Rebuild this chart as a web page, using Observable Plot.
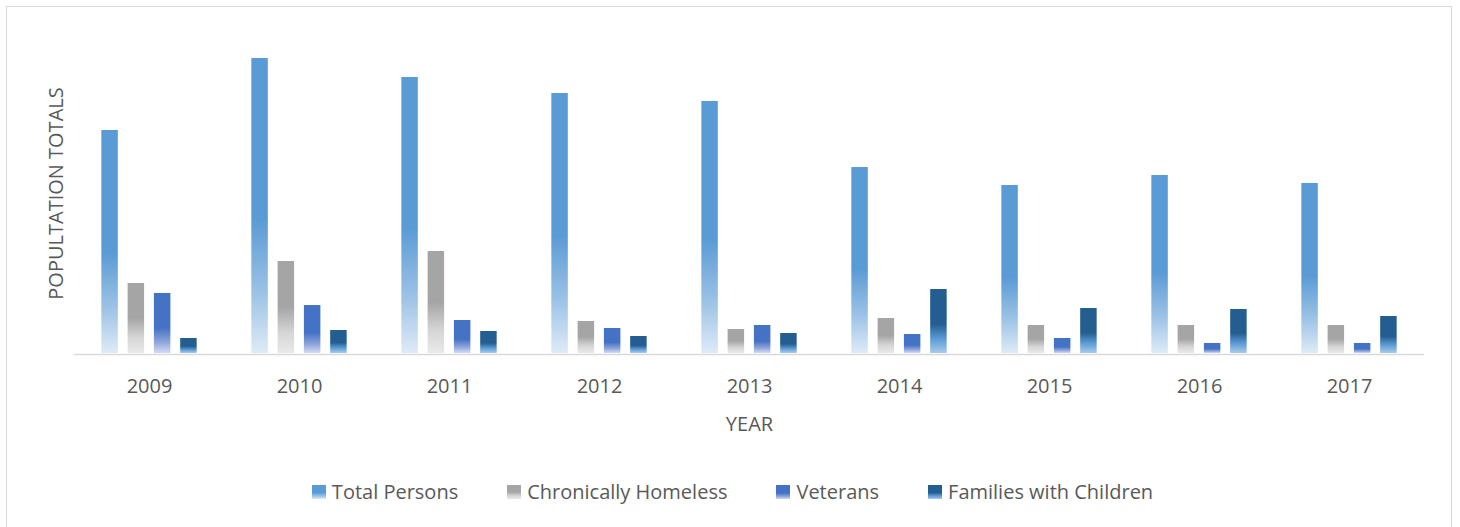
<!DOCTYPE html>
<html>
<head>
<meta charset="utf-8">
<script src="https://cdn.jsdelivr.net/npm/d3@7"></script>
<script src="https://cdn.jsdelivr.net/npm/@observablehq/plot@0.6"></script>
<style>
  html, body { margin: 0; padding: 0; background: #fff; width: 1460px; height: 527px; overflow: hidden; }
  #frame { position: absolute; left: 6px; top: 6px; width: 1446px; height: 560px; border: 1.5px solid #d9d9d9; box-sizing: border-box; }
  #chart { position: absolute; left: 0; top: 0; }
  #legend { position: absolute; left: 0; top: 478px; width: 1460px; display: flex; justify-content: center; gap: 49px;
            font-family: "Open Sans", sans-serif; font-size: 20px; color: #595959; line-height: 28px; padding-left: 5px; box-sizing: border-box; }
  .item { display: flex; align-items: center; gap: 6px; }
  .sw { width: 14px; height: 14px; }
</style>
</head>
<body>
<div id="frame"></div>
<div id="chart"></div>
<div id="legend"></div>
<script>
const years = ["2009", "2010", "2011", "2012", "2013", "2014", "2015", "2016", "2017"];
const seriesNames = ["Total Persons", "Chronically Homeless", "Veterans", "Families with Children"];
const totalPersons = [2230, 2950, 2760, 2600, 2520, 1860, 1680, 1780, 1700];
const chronicallyHomeless = [700, 920, 1020, 320, 240, 350, 280, 280, 280];
const veterans = [600, 480, 330, 250, 280, 190, 150, 100, 100];
const familiesWithChildren = [150, 230, 220, 170, 200, 640, 450, 440, 370];

// gradient styles per series: [offset, color]
const gradientStops = [
  [[0, "#5b9bd5"], [0.55, "#5b9bd5"], [0.8, "#9dc3e6"], [1, "#deebf7"]],
  [[0, "#a5a5a5"], [0.5, "#a5a5a5"], [0.78, "#d6d6d6"], [1, "#e9e9e9"]],
  [[0, "#4472c4"], [0.58, "#4472c4"], [0.82, "#8fa5dc"], [1, "#d3dbf2"]],
  [[0, "#245e91"], [0.55, "#245e91"], [0.78, "#5b9bd5"], [1, "#a9cbea"]]
];
const gradIds = seriesNames.map((_, i) => "grad" + i);

const seriesValues = [totalPersons, chronicallyHomeless, veterans, familiesWithChildren];
const rows = [];
years.forEach((yr, j) => {
  seriesNames.forEach((s, i) => rows.push({year: yr, series: s, value: seriesValues[i][j], fill: `url(#${gradIds[i]})`}));
});

const chart = Plot.plot({
  width: 1460,
  height: 445,
  marginTop: 33,
  marginBottom: 92,
  marginLeft: 73,
  marginRight: 36,
  style: {fontFamily: "Open Sans, sans-serif", fontSize: "20px", color: "#595959", background: "transparent", overflow: "visible"},
  fx: {domain: years, padding: 0, axis: "bottom", tickSize: 0, tickPadding: 25, label: "YEAR", labelAnchor: "center", labelOffset: 77},
  x: {domain: seriesNames, axis: null, paddingInner: 0.373, paddingOuter: 1.04, round: false},
  y: {domain: [0, 3200], axis: null},
  color: {type: "identity"},
  marks: [
    Plot.ruleY([0], {stroke: "#d9d9d9", strokeWidth: 1.6, dy: 1}),
    Plot.barY(rows, {fx: "year", x: "series", y: "value", fill: "fill"}),
    Plot.text(["POPULTATION TOTALS"], {frameAnchor: "left", textAnchor: "middle", rotate: -90, dx: -18, fill: "#595959", fontSize: 20, facet: "super"})
  ]
});

const defs = d3.select(chart).insert("defs", ":first-child");
gradientStops.forEach((stops, i) => {
  const g = defs.append("linearGradient").attr("id", gradIds[i]).attr("x1", 0).attr("y1", 0).attr("x2", 0).attr("y2", 1);
  stops.forEach(([o, c]) => g.append("stop").attr("offset", o).attr("stop-color", c));
});
document.getElementById("chart").append(chart);

const legend = document.getElementById("legend");
seriesNames.forEach((s, i) => {
  const item = document.createElement("div");
  item.className = "item";
  const sw = document.createElement("div");
  sw.className = "sw";
  sw.style.background = `linear-gradient(to bottom, ${gradientStops[i].map(([o, c]) => `${c} ${o * 100}%`).join(", ")})`;
  const label = document.createElement("span");
  label.textContent = s;
  item.append(sw, label);
  legend.append(item);
});
</script>
</body>
</html>
